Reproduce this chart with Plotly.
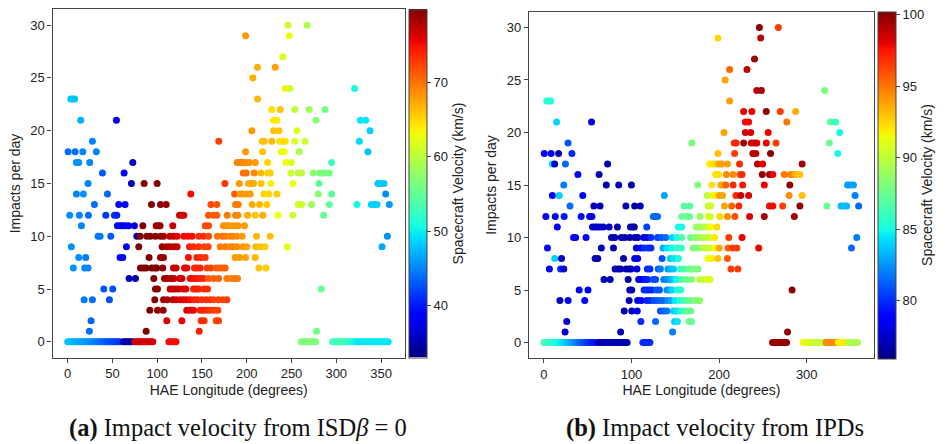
import plotly.graph_objects as go

# ---------------- data ----------------
# HAE longitude (deg) of each impact day point, grouped by impacts-per-day row
longitude = [
    # 30
    246, 267.6,
    # 29
    198.7, 247.5,
    # 27
    240.4,
    # 26
    212, 231.8,
    # 25
    206.9,
    # 24
    243, 248.2, 320.5,
    # 23
    3.4, 5.6, 7.8, 212,
    # 22
    228, 237.4, 253.8, 269.8, 287.4,
    # 21
    14.5, 54.4, 230, 233.7, 277.3, 327, 333,
    # 20
    205.7, 230, 236, 256, 337.7,
    # 19
    27.6, 168.8, 217.3, 219.5, 228, 236.7, 240.4, 243, 253.8, 265, 325.8,
    # 18
    0.4, 8.2, 16.8, 32, 198.7, 217.7, 238.5, 241.9, 258.7, 335.4,
    # 17
    9.7, 12.3, 24.6, 72.7, 189.3, 192.7, 196, 199.4, 202.8, 209.5, 223.3, 243.8, 249.7, 294.8,
    # 16
    38.8, 63, 196, 199.4, 208.3, 215.8, 223.6, 226.2, 249.3, 257.5, 261.3, 274.3, 281.4, 285, 287.7, 292.2,
    # 15
    22.7, 71.2, 85.4, 99.9, 175.6, 191.6, 202, 205, 207.6, 216, 226.9, 251.6, 280.7, 346.6, 349.6, 353.3,
    # 14
    9.7, 17.5, 44.4, 137.5, 186.4, 192.7, 195.3, 200.1, 203.9, 219.2, 224.7, 233.7, 279.9, 294.8, 355.2,
    # 13
    29.8, 57, 64.1, 93.6, 103.6, 110, 160, 166.6, 187.5, 190.5, 206.1, 214.3, 222.5, 257.5, 261.3, 272.5,
    292.2, 323.1, 339.2, 342.2, 345.5, 359.3,
    # 12
    2.2, 13, 23.1, 42.5, 52.2, 54.8, 124.9, 127.5, 129.7, 157.3, 162.9, 166.6, 178.2, 187.5, 190.1, 200.9,
    209.5, 218, 234.8, 251.6, 285.9,
    # 11
    15.3, 55.5, 58.5, 61.1, 64.1, 67.8, 74.5, 83.9, 98.8, 101.8, 103.2, 117.4, 153.6, 157.3, 174, 177, 180,
    183.4, 187.1, 190.5, 197.5,
    # 10
    33.9, 36.2, 48.1, 77.2, 80.9, 88.3, 92.4, 98, 103.6, 107, 114, 118.1, 122.2, 129.7, 134.2, 139, 146.5,
    151.7, 157.3, 167.3, 172.6, 176.3, 181.5, 185.2, 189, 194.9, 211, 226.2, 357.1,
    # 9
    4.1, 65.6, 79.4, 105.5, 110.7, 114.4, 118.9, 122.2, 136, 140.5, 146.1, 152.4, 156.9, 170.3, 175.9, 181.5,
    185.2, 189.3, 195.7, 200.1, 210.2, 215.1, 220.3, 245.2, 351.1,
    # 8
    12.3, 20.1, 58.5, 61.5, 90.9, 103.6, 107, 134.9, 144.2, 148.7, 153.6, 187.1, 191.9, 198.7, 209.5,
    # 7
    6.3, 19, 22.7, 81.3, 84.6, 87.6, 93.9, 97.3, 99.5, 106.2, 118.1, 121.1, 130.5, 133, 141.6, 144.6, 148,
    155.8, 160, 165.9, 169.2, 172.6, 175.9, 213.6, 221.4,
    # 6
    68.6, 75.7, 96.2, 108.1, 110.7, 114.4, 116.3, 118.5, 124.9, 127.5, 136.8, 140.5, 144.2, 148, 151.7, 157.3,
    162.9, 168.5, 177.8, 182.3, 186, 189.7,
    # 5
    40.3, 50.3, 98, 100.3, 114.4, 117.4, 120.4, 123.7, 128.6, 131.9, 140.5, 143.5, 146.1, 152.4, 156.2, 283.3,
    # 4
    18.3, 27.6, 46.6, 97.3, 107, 111.1, 117.4, 121.1, 125.6, 129.3, 133, 136.8, 141.2, 145, 149.8, 154.7,
    159.2, 162.9, 168.5, 173.4, 177.8,
    # 3
    91.7, 100.3, 106.6, 133, 136.8, 140.5, 148, 151.7, 156.2, 160, 164, 167.7,
    # 2
    26.1, 110.7, 127.5, 149.1, 152.4, 165.9, 168.5,
    # 1
    24.2, 87.6, 146.9, 278.1,
    # 0
    0, 2, 4, 6, 8, 10, 12, 14, 16, 18, 20, 22, 24, 26, 28, 30, 32, 34, 36, 38, 40, 42, 44, 46, 48, 50, 52,
    54, 56, 58,
    62, 64, 66, 68, 70, 72,
    75, 77, 79, 81, 83, 85, 87, 89, 91, 93, 95,
    113, 115, 117, 119, 121,
    261, 263, 265, 267, 269, 271, 273, 275, 277,
    296, 298, 300, 302, 304, 306, 308, 310, 312, 314, 316, 318, 320, 322, 324, 326, 328, 330, 332, 334,
    336, 338, 340, 342, 344, 346, 348, 350, 352, 354, 356, 358,
]

impacts = (
    [30] * 2 + [29] * 2 + [27] * 1 + [26] * 2 + [25] * 1 + [24] * 3 + [23] * 4 + [22] * 5 + [21] * 7
    + [20] * 5 + [19] * 11 + [18] * 10 + [17] * 14 + [16] * 16 + [15] * 16 + [14] * 15 + [13] * 22
    + [12] * 21 + [11] * 21 + [10] * 29 + [9] * 25 + [8] * 15 + [7] * 25 + [6] * 22 + [5] * 16
    + [4] * 21 + [3] * 12 + [2] * 7 + [1] * 4 + [0] * 93
)

# spacecraft velocity (km/s), panel (a): ISD beta = 0
velocity_isd = [
    61, 59.5,
    68, 63,
    62,
    67, 67.5,
    67,
    63.5, 61, 50.5,
    48, 48, 48, 66.5,
    64.5, 66, 60, 58.5, 56,
    47, 37.5, 64, 64, 57, 49.5, 49.5,
    68, 66, 66, 62, 48.5,
    45, 72.5, 66, 66, 66.5, 64.5, 64.5, 64.5, 62, 61, 49,
    44, 44, 45, 45, 68, 66, 63, 63, 59, 48,
    45.5, 45.5, 45, 35.5, 69, 69, 69, 68.5, 68.5, 68, 65, 63, 62, 53,
    43, 38, 70, 70, 69, 66.5, 65.5, 65.5, 61, 60, 60, 57, 56.5, 56.5, 56, 56,
    45, 35.5, 80, 80, 73, 68, 67, 67, 67, 66, 63.5, 62.8, 54.5, 48, 48, 48,
    45, 45.5, 43.5, 75, 71, 68, 68, 68, 68, 65, 65, 65.5, 57, 54.5, 45.5,
    44, 39, 38.5, 80, 79.5, 79, 72, 71.5, 69.5, 69.5, 67, 66.5, 65.5, 61, 61, 58.5,
    54.5, 50.5, 48.5, 48.5, 48.5, 46,
    45.5, 45, 44, 41.5, 41, 40.5, 77, 76.5, 76.5, 71.5, 71, 71, 69.5, 69, 69, 67,
    66, 67, 62.8, 61, 55,
    45, 39, 38.5, 38.5, 38.5, 38.5, 37, 80, 79, 79, 79, 77, 72, 72, 68.5, 68.5, 68,
    68, 68, 68, 68,
    44.5, 44.5, 43, 34.5, 80, 79.5, 79.5, 79.5, 79, 78.5, 77, 77, 76, 75, 75, 75, 73.5,
    73.5, 72.5, 70, 70, 69.5, 69, 69, 68.5, 68, 66.5, 66, 45.5,
    45.5, 38, 80, 79, 78.5, 77.5, 77.5, 77, 74, 73.5, 73, 72.5, 72.5, 69.5, 69.5, 69,
    69, 68.5, 68, 67.5, 66.5, 66, 65.5, 62.8, 46.5,
    45.5, 44.5, 39, 39, 80, 79, 79, 75, 74, 73.5, 73, 68, 68, 67.5, 66.5,
    45.5, 45, 45, 80, 80, 80, 80, 80, 80, 79, 77, 77, 75.5, 75.5, 73.8, 73.8, 73.8,
    72.5, 72.5, 71, 71, 71, 71, 66, 65.5,
    35.5, 35, 80, 78.5, 78.5, 78, 77.5, 77.5, 76.5, 76.5, 75, 75, 74.5, 74, 74, 71,
    71, 71, 69.5, 69.5, 69.5, 69.5,
    43, 42.5, 79.5, 79.5, 77, 77, 77, 77, 76, 76, 74, 74, 74, 73.5, 73.5, 55,
    44.5, 44, 42.5, 79.5, 78.5, 78.5, 77, 77, 76, 76, 75.5, 75, 74, 74, 73.5, 73.5,
    73.5, 72.5, 72.5, 72.5, 72.5,
    80, 79, 79, 76.5, 76, 75.5, 74, 73.8, 73.5, 73, 72.5, 72.5,
    43.5, 76.5, 75.5, 73.5, 73.5, 72.5, 72.5,
    44, 80, 74, 56,
    48, 47.8, 47.6, 47.4, 47.2, 47, 46.8, 46.6, 46.4, 46.2, 46, 45.8, 45.5, 45.3, 45, 44.8, 44.5,
    44.3, 44, 43.8, 43.5, 43.3, 43, 42.8, 42.5, 42.3, 42, 41.8, 41.5, 41.3,
    35.5, 35, 35, 34.8, 34.6, 34.5,
    76.5, 76.5, 76.5, 76.5, 76.5, 76.5, 76.5, 76.5, 76.5, 76.5, 76.5,
    75, 75, 75, 75, 75,
    56.5, 56.5, 56.5, 56.5, 56.5, 56.5, 56.5, 56.5, 56.5,
    53, 53, 53, 53, 53, 53, 53, 53, 52.5, 52, 51.5, 51, 50.5, 50, 49.5, 49.5, 49.5, 49.5, 49.5, 49.5,
    49.5, 49.5, 49.5, 49.5, 49.5, 49.5, 49.5, 49.5, 49.5, 49.5, 49.5, 49.5,
]

# spacecraft velocity (km/s), panel (b): from IPDs
velocity_ipd = [
    100, 96.5,
    92.5, 99,
    99.5,
    95.5, 99,
    93.8,
    99, 99.5, 88,
    85.5, 85.5, 85.5, 94,
    98, 98, 100, 96.5, 93.5,
    84, 78, 97.8, 97.8, 95, 87, 86,
    93.8, 98.5, 98.5, 98, 85,
    81, 88, 97, 97, 99.5, 98.5, 98.5, 98.5, 98, 96.5, 87.5,
    78.5, 78.5, 77, 80, 93, 96.5, 99, 99, 100, 85,
    84.5, 77.5, 81.5, 77, 91.8, 92.3, 92.5, 93.8, 94, 94, 97, 99, 98.3, 99.5,
    79, 77, 92.3, 92.3, 94.5, 94.5, 96, 97, 99.8, 99.8, 98, 95, 94.8, 94.5, 93.2, 93,
    82, 77, 77, 77, 88.3, 92.3, 93.8, 93.8, 95.5, 97, 97.5, 98, 100, 82.8, 82.8, 82.8,
    79, 84, 78.5, 83, 90.2, 91.3, 91.8, 93.8, 93.8, 97, 98.8, 98.3, 94.5, 93, 82,
    81.5, 77.2, 77.2, 77, 77, 77, 87, 87, 90.5, 90.5, 93.8, 95.5, 97, 97.8, 97.8, 96.5,
    99.8, 87.5, 83.5, 83.5, 83.5, 81.5,
    78.5, 79, 79.5, 79, 78, 78, 81.5, 81.5, 81.5, 87.5, 87.5, 87.5, 88.8, 90.8, 90.8, 92.5,
    94.5, 96, 98.3, 99.5, 99.5,
    78.7, 77.5, 77.5, 77.5, 77.5, 77.5, 77.5, 77, 77, 77, 77, 80.5, 85, 85, 88.8, 89, 89.3,
    89.5, 90.5, 91.5, 92.5,
    79, 79, 78.7, 77, 77, 77, 77, 77, 77, 77, 78, 78, 80, 80.5, 81, 81.5, 84,
    85, 86.5, 87.5, 88.5, 89, 89.5, 90, 90.5, 92, 96.5, 98, 82,
    79, 77, 77, 78.3, 78.3, 80, 80, 80, 83, 84.5, 85, 85.7, 86, 88, 88.5, 89.5,
    90.2, 90.5, 91.8, 93.8, 95.5, 96.5, 96.5, 98, 81.5,
    84, 77.5, 77, 77, 77, 78.3, 78.3, 81, 84, 84.5, 85.3, 91.3, 91.8, 93, 95.8,
    79, 80, 77.5, 77, 77, 77, 77, 77, 77, 78, 80, 80, 81.3, 82, 82.8, 83.3, 83.8,
    86, 86.6, 87.5, 88, 88, 88, 96.5, 96.5,
    77, 77, 77, 78.3, 78.5, 79, 79.5, 79.8, 80.8, 80.8, 82, 82.5, 83, 84, 85, 86.6,
    87.5, 88.2, 90, 90.3, 90.7, 91,
    79, 79, 77, 77, 80, 80, 80, 80, 81, 81, 82.5, 83, 84, 85, 85.5, 100,
    77.2, 78.5, 79, 77, 78.5, 78.5, 79.8, 79.8, 80.8, 81, 81.3, 81.5, 82.3, 83, 84.5, 85.3,
    86.2, 87, 87.7, 88.3, 88.5,
    77, 77.3, 78.3, 81, 81.3, 81.8, 84, 84.5, 85.3, 86.6, 87, 87.5,
    77.5, 80, 81.5, 84, 84.5, 87.5, 87.5,
    77.5, 77, 82, 100,
    86.6, 86.4, 86.2, 86, 85.8, 85.6, 85.4, 85.2, 85, 84.8, 84.6, 84.4, 84.1, 83.8, 83.5, 83.2, 82.9,
    82.6, 82.3, 82, 81.7, 81.4, 81.1, 80.8, 80.6, 80.4, 80.2, 80, 79.8, 79.6,
    77, 77, 77, 77, 77, 77,
    77, 77, 77, 77, 77, 77, 77, 77, 77, 77, 77,
    80, 80, 80, 80, 80,
    99.8, 99.8, 99.8, 99.8, 99.8, 99.8, 99.8, 99.8, 99.8,
    91.5, 91.5, 91.3, 91.2, 91, 90.8, 90.6, 90.4, 90.3, 90.2, 90.2, 90.2, 90.5, 94.5, 94.5, 94.5,
    94.5, 94.5, 94.5, 94.5, 92, 92, 92, 92, 92, 92, 89.5, 89.5, 89.5, 89.5, 89.5, 89.5,
]

x_ticks_a = [0, 50, 100, 150, 200, 250, 300, 350]
x_ticks_b = [0, 100, 200, 300]
y_ticks = [0, 5, 10, 15, 20, 25, 30]
cbar_ticks_a = [40, 50, 60, 70]
cbar_ticks_b = [80, 85, 90, 95, 100]
vel_range_a = [33.05, 79.8]
vel_range_b = [75.97, 100.23]

# ---------------- matplotlib "jet" colormap ----------------
_jet = {
    "r": [(0, 0), (0.35, 0), (0.66, 1), (0.89, 1), (1, 0.5)],
    "g": [(0, 0), (0.125, 0), (0.375, 1), (0.64, 1), (0.91, 0), (1, 0)],
    "b": [(0, 0.5), (0.11, 1), (0.34, 1), (0.65, 0), (1, 0)],
}


def _interp(pts, t):
    for (x0, y0), (x1, y1) in zip(pts[:-1], pts[1:]):
        if x0 <= t <= x1:
            return y0 + (y1 - y0) * (t - x0) / (x1 - x0) if x1 > x0 else y1
    return pts[-1][1]


_stops = sorted({p[0] for c in _jet.values() for p in c})
jet = [[t, "rgb(%d,%d,%d)" % tuple(round(255 * _interp(_jet[c], t)) for c in "rgb")] for t in _stops]

FONT = "Liberation Sans, Arial, sans-serif"
LINE = "#444444"

fig = go.Figure()
fig.add_trace(go.Scatter(
    x=longitude, y=impacts, mode="markers", xaxis="x", yaxis="y",
    marker=dict(size=7, color=velocity_isd, coloraxis="coloraxis", line=dict(width=0)),
    showlegend=False, hoverinfo="skip",
))
fig.add_trace(go.Scatter(
    x=longitude, y=impacts, mode="markers", xaxis="x2", yaxis="y2",
    marker=dict(size=7, color=velocity_ipd, coloraxis="coloraxis2", line=dict(width=0)),
    showlegend=False, hoverinfo="skip",
))

W, H = 949, 444


def xax(domain, ticks, anchor):
    return dict(
        domain=domain, range=[-17, 376.8], tickvals=ticks, anchor=anchor,
        ticks="outside", ticklen=4, tickwidth=1, tickcolor=LINE,
        showline=True, mirror=True, linecolor=LINE, linewidth=1.3,
        showgrid=False, zeroline=False, automargin=False,
        tickfont=dict(family=FONT, size=13, color="#222"),
        title=dict(text="HAE Longitude (degrees)", standoff=4,
                   font=dict(family=FONT, size=14, color="#222")),
    )


def yax(domain, anchor):
    return dict(
        domain=domain, range=[-1.5, 31.5], tickvals=y_ticks, anchor=anchor,
        ticks="outside", ticklen=4, tickwidth=1, tickcolor=LINE,
        showline=True, mirror=True, linecolor=LINE, linewidth=1.3,
        showgrid=False, zeroline=False, automargin=False,
        tickfont=dict(family=FONT, size=13, color="#222"),
        title=dict(text="Impacts per day", standoff=6,
                   font=dict(family=FONT, size=14, color="#222")),
    )


def cbar(x, y, ln, ticks):
    return dict(
        x=x, xanchor="left", y=y, yanchor="middle", len=ln, lenmode="fraction",
        thickness=18, thicknessmode="pixels", xpad=0, ypad=0,
        outlinewidth=1, outlinecolor=LINE,
        tickvals=ticks, ticks="outside", ticklen=4, tickcolor=LINE,
        tickfont=dict(family=FONT, size=13, color="#222"),
        title=dict(text="Spacecraft Velocity (km/s)", side="right",
                   font=dict(family=FONT, size=14, color="#222")),
    )


CAPTION_FONT = dict(family="Liberation Serif, serif", size=24.5, color="#111")

fig.update_layout(
    width=W, height=H, template="none",
    margin=dict(l=0, r=0, t=0, b=0, pad=0),
    paper_bgcolor="white", plot_bgcolor="white",
    xaxis=xax([52.5 / W, 405 / W], x_ticks_a, "y"),
    yaxis=yax([1 - 357.7 / H, 1 - 9.3 / H], "x"),
    xaxis2=xax([529 / W, 874 / W], x_ticks_b, "y2"),
    yaxis2=yax([1 - 358.3 / H, 1 - 11.7 / H], "x2"),
    coloraxis=dict(colorscale=jet, cmin=vel_range_a[0], cmax=vel_range_a[1],
                   colorbar=cbar(409 / W, 1 - 183.5 / H, 348.4 / H, cbar_ticks_a)),
    coloraxis2=dict(colorscale=jet, cmin=vel_range_b[0], cmax=vel_range_b[1],
                    colorbar=cbar(878 / W, 1 - 185 / H, 346.6 / H, cbar_ticks_b)),
    annotations=[
        dict(text="<b>(a)</b> Impact velocity from ISD<i>β</i> = 0", x=238 / W, y=1 - 428 / H,
             xref="paper", yref="paper", xanchor="center", yanchor="middle", showarrow=False,
             font=CAPTION_FONT),
        dict(text="<b>(b)</b> Impact velocity from IPDs", x=715 / W, y=1 - 428 / H,
             xref="paper", yref="paper", xanchor="center", yanchor="middle", showarrow=False,
             font=CAPTION_FONT),
    ],
)

assert len(longitude) == len(impacts) == len(velocity_isd) == len(velocity_ipd), (
    len(longitude), len(impacts), len(velocity_isd), len(velocity_ipd))

fig.write_html("out.html")
